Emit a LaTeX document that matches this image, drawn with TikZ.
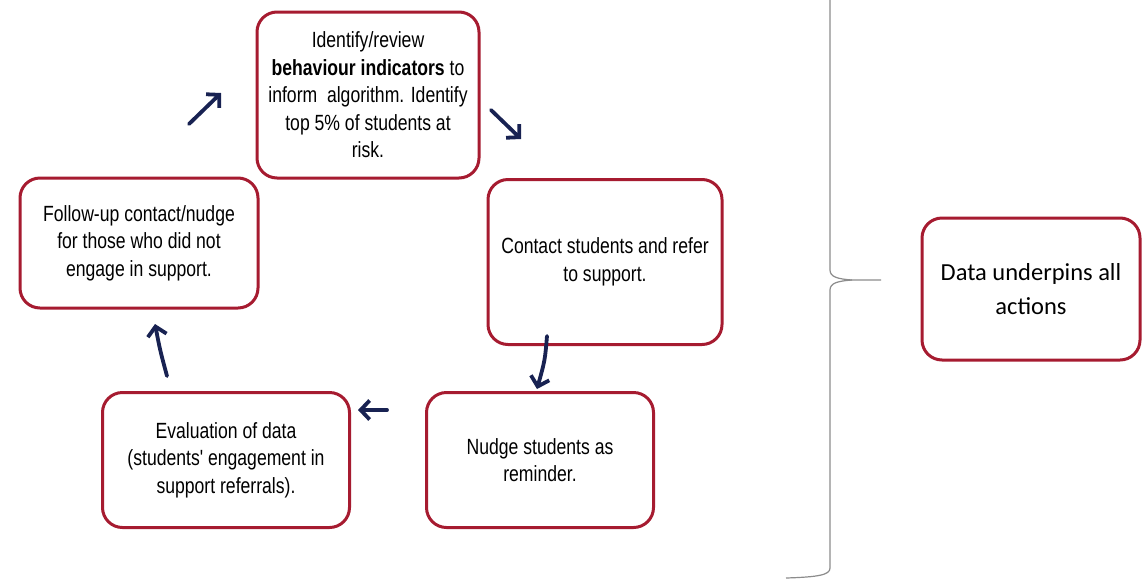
\documentclass[tikz,border=0pt]{standalone}
\usepackage{fontspec}
\setmainfont{Liberation Sans}
\newfontfamily\narrowfont{Liberation Sans}[FakeStretch=0.8]
\newfontfamily\calfont{Carlito}
\usetikzlibrary{arrows.meta}
\definecolor{boxred}{RGB}{166,27,48}
\definecolor{navy}{RGB}{24,34,82}
\definecolor{bracegray}{RGB}{140,140,140}
\tikzset{
  stepbox/.style={draw=boxred, line width=3pt, rounded corners=20pt, fill=white,
    align=center, inner sep=0pt, font=\narrowfont\fontsize{22}{27.5}\selectfont},
  cyclearrow/.style={draw=navy, line width=3.8pt, line cap=round,
    -{Straight Barb[length=9pt,width=19pt,line width=3.8pt]}},
  bracepath/.style={draw=bracegray, line width=1.2pt}
}
\begin{document}
\begin{tikzpicture}[x=1pt,y=-1pt]
\useasboundingbox (0,0) rectangle (1142,579);
\fill[white] (0,0) rectangle (1142,579);

% process steps
\node[stepbox, minimum width=222pt, minimum height=166pt] (identify) at (368,95)
  {Identify/review\\\textbf{behaviour indicators} to\\inform\ \ algorithm. Identify\\top 5\% of students at\\risk.};
\node[stepbox, minimum width=234pt, minimum height=165pt] (contact) at (605,262)
  {Contact students and refer\\to support.};
\node[stepbox, minimum width=227pt, minimum height=135pt] (nudge) at (540,460)
  {Nudge students as\\reminder.};
\node[stepbox, minimum width=247pt, minimum height=135pt] (evaluate) at (226,460)
  {Evaluation of data\\(students' engagement in\\support referrals).};
\node[stepbox, minimum width=238pt, minimum height=130pt] (follow) at (139,243)
  {Follow-up contact/nudge\\for those who did not\\engage in support.};
\node[stepbox, minimum width=218pt, minimum height=142pt,
  font=\calfont\fontsize{24.5}{34}\selectfont] (data) at (1031,289)
  {Data underpins all\\actions};

% arrow ends
\coordinate (a1s) at (189,124); \coordinate (a1e) at (221,93);
\coordinate (a2s) at (491,110); \coordinate (a2e) at (521,139);
\coordinate (a3s) at (547,336); \coordinate (a3e) at (537,389);
\coordinate (a4s) at (387,410); \coordinate (a4e) at (358,410);
\coordinate (a5s) at (167,376); \coordinate (a5e) at (155,324);

\draw[cyclearrow] (a1s) -- (a1e);
\draw[cyclearrow] (a2s) -- (a2e);
\draw[cyclearrow] (a3s) .. controls (545,360) .. (a3e);
\draw[cyclearrow] (a4s) -- (a4e);
\draw[cyclearrow] (a5s) .. controls (160,350) .. (a5e);

% brace
\coordinate (tip) at (852,280);
\draw[bracepath] (830,-2) -- (830,270) .. controls (830,277) and (838,279) .. (tip)
  -- (881,280);
\draw[bracepath] (tip) .. controls (838,281) and (830,283) .. (830,290)
  -- (830,568) .. controls (830,575) and (818,577) .. (786,578);
\end{tikzpicture}
\end{document}
